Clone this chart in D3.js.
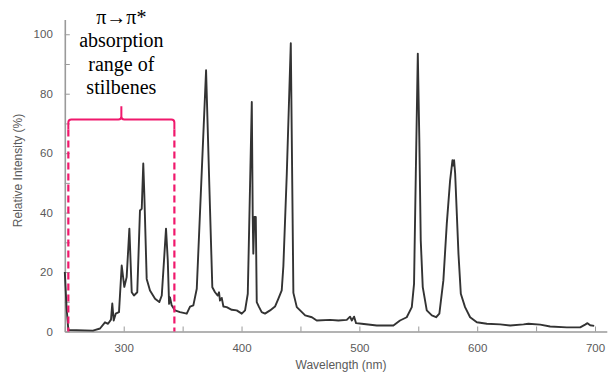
<!DOCTYPE html>
<html>
<head>
<meta charset="utf-8">
<script src="https://cdn.jsdelivr.net/npm/d3@7/dist/d3.min.js"></script>
<style>
  html, body { margin: 0; padding: 0; background: #fff; }
  svg { display: block; }
</style>
</head>
<body>
<script>
// Emission spectrum: wavelength (nm) and relative intensity (%)
const wavelength = [250, 251.5, 253, 273.9, 279.9, 284.1, 286.7, 289.2, 290.3, 291.5, 293.2, 296, 298.3, 300.5, 302.5, 304.8, 306.8, 308.7, 311.5, 313.8, 315.3, 316.6, 317.5, 319.5, 322.3, 326.6, 330.2, 332.3, 334.2, 335.9, 337.4, 338.5, 339.3, 340.7, 343.5, 347.8, 353.5, 356.3, 359.1, 362, 369.9, 372.7, 375.2, 377.5, 379.8, 380.9, 381.7, 383.2, 384.6, 387.4, 391.7, 395.9, 400.2, 403, 405.3, 408.7, 409.5, 410, 410.9, 412.1, 412.9, 414.9, 417.1, 419.9, 424.2, 428.4, 431.2, 434.1, 435.5, 438.4, 441.8, 443.3, 444, 446.9, 449.7, 454, 459.7, 463.8, 475.1, 482.2, 489.3, 492.1, 493.6, 495.5, 497.2, 502, 514.8, 528.9, 534.5, 540.2, 544.5, 546.4, 547.9, 549.6, 550.9, 552.1, 553.8, 557.2, 561.5, 565.1, 567.9, 571.3, 574.2, 577, 579, 579.7, 580.4, 581.3, 584.1, 586.1, 589.7, 594, 599.7, 608.2, 619.5, 628, 639.3, 643.5, 653.5, 661.9, 676.1, 687.4, 691.6, 693.6, 695.9, 699.3];
const intensity = [20, 8, 0.5, 0.3, 1, 3.1, 2.6, 4, 9.4, 3.7, 6, 6.5, 22.2, 15, 18.3, 34.6, 13.2, 12.1, 13.2, 40.7, 41.3, 56.5, 46, 17.7, 13.8, 11, 9.9, 12.1, 23.9, 34.6, 23.9, 9.3, 11.5, 8.8, 7.1, 6.5, 6, 8.4, 8.8, 14.4, 87.9, 48.6, 14.9, 13.2, 12.1, 13.2, 10.4, 11.3, 8.4, 8.2, 7.3, 7.1, 6, 7.1, 12.7, 77.2, 38.5, 26.2, 38.5, 38.5, 9.9, 8.2, 6.5, 6, 7.1, 8.4, 11, 13.8, 22, 53, 97, 40, 13, 8.2, 7.1, 5.4, 4.8, 3.7, 3.9, 3.7, 3.9, 5, 3.7, 5, 2.8, 2.6, 2, 2, 3.7, 4.8, 8.2, 16, 53, 93.5, 64.3, 30.6, 14.9, 7.1, 5.4, 4.8, 6, 17.2, 36.3, 50.8, 57.6, 55.8, 57.6, 53.1, 26.2, 12.7, 8.2, 4.8, 3.1, 2.6, 2.4, 2, 2.4, 2.6, 2.3, 1.7, 1.4, 1.4, 2.3, 2.8, 2.1, 1.9];

// Axis ticks
const xTickValues = [300, 400, 500, 600, 700];
const xMinorTicks = [250, 300, 350, 400, 450, 500, 550, 600, 650, 700];
const yTickValues = [0, 20, 40, 60, 80, 100];
const yMinorTicks = [0, 10, 20, 30, 40, 50, 60, 70, 80, 90, 100];

// Annotated wavelength range and its caption
const bandRange = [253, 343];
const bandLabel = ["π→π*", "absorption", "range of", "stilbenes"];

const W = 608, H = 372;
const svg = d3.select("body").append("svg").attr("width", W).attr("height", H);

const x = d3.scaleLinear().domain([250, 710]).range([64.8, 606.8]);
const y = d3.scaleLinear().domain([0, 105]).range([331.5, 19.4]);

const axisColor = "#9a9a9a";
const textColor = "#5a5a5a";
const sans = "'Liberation Sans', Arial, Helvetica, sans-serif";

// Minor ticks (no labels)
svg.append("g")
  .attr("transform", `translate(0,${y(0)})`)
  .call(d3.axisBottom(x).tickValues(xMinorTicks).tickSizeInner(-5).tickSizeOuter(0).tickFormat(""))
  .call(g => g.select(".domain").attr("stroke", axisColor).attr("stroke-width", 1.6))
  .call(g => g.selectAll(".tick line").attr("stroke", axisColor).attr("stroke-width", 1));

svg.append("g")
  .attr("transform", `translate(${x(250)},0)`)
  .call(d3.axisLeft(y).tickValues(yMinorTicks).tickSizeInner(-5).tickSizeOuter(0).tickFormat(""))
  .call(g => g.select(".domain").attr("stroke", axisColor).attr("stroke-width", 1.6))
  .call(g => g.selectAll(".tick line").attr("stroke", axisColor).attr("stroke-width", 1));

// Labelled ticks
svg.append("g")
  .attr("transform", `translate(0,${y(0)})`)
  .call(d3.axisBottom(x).tickValues(xTickValues).tickSize(0).tickPadding(12).tickFormat(d3.format("d")))
  .call(g => g.select(".domain").remove())
  .call(g => g.selectAll("text").attr("fill", textColor).style("font-family", sans).style("font-size", "11.5px"));

svg.append("g")
  .attr("transform", `translate(${x(250)},0)`)
  .call(d3.axisLeft(y).tickValues(yTickValues).tickSize(0).tickPadding(12).tickFormat(d3.format("d")))
  .call(g => g.select(".domain").remove())
  .call(g => g.selectAll("text").attr("fill", textColor).style("font-family", sans).style("font-size", "11.5px"));

// Axis titles
svg.append("text")
  .attr("transform", `translate(22,${(y(0) + y(105)) / 2 - 5}) rotate(-90)`)
  .attr("text-anchor", "middle")
  .attr("fill", textColor)
  .style("font-family", sans).style("font-size", "12px")
  .text("Relative Intensity (%)");

svg.append("text")
  .attr("x", 341).attr("y", 369)
  .attr("text-anchor", "middle")
  .attr("fill", textColor)
  .style("font-family", sans).style("font-size", "12px")
  .text("Wavelength (nm)");

// Spectrum line
const points = wavelength.map((w, i) => [w, intensity[i]]);
svg.append("path")
  .datum(points)
  .attr("fill", "none")
  .attr("stroke", "#333")
  .attr("stroke-width", 1.9)
  .attr("stroke-linejoin", "round")
  .attr("d", d3.line().x(d => x(d[0])).y(d => y(d[1])));

// Bracket marking the absorption range
const pink = "#f0186c";
const xl = x(bandRange[0]), xr = x(bandRange[1]);
const xm = (xl + xr) / 2;
const yb = y(71.3), yEnd = y(68), yTip = y(75.8);
const r = 3;
const brace = d3.path();
brace.moveTo(xl, yEnd);
brace.lineTo(xl, yb + r);
brace.quadraticCurveTo(xl, yb, xl + r, yb);
brace.lineTo(xm - 3, yb);
brace.quadraticCurveTo(xm, yb, xm, yb - 3);
brace.lineTo(xm, yTip);
brace.moveTo(xm, yb - 3);
brace.quadraticCurveTo(xm, yb, xm + 3, yb);
brace.lineTo(xr - r, yb);
brace.quadraticCurveTo(xr, yb, xr, yb + r);
brace.lineTo(xr, yEnd);
svg.append("path")
  .attr("d", brace.toString())
  .attr("fill", "none")
  .attr("stroke", pink)
  .attr("stroke-width", 2);

svg.selectAll("line.band")
  .data(bandRange)
  .join("line")
  .attr("class", "band")
  .attr("x1", d => x(d)).attr("x2", d => x(d))
  .attr("y1", yEnd).attr("y2", y(0))
  .attr("stroke", pink)
  .attr("stroke-width", 2.2)
  .attr("stroke-dasharray", "7,4");

// Caption above the bracket
svg.append("g")
  .selectAll("text")
  .data(bandLabel)
  .join("text")
  .attr("x", xm)
  .attr("y", (d, i) => 23.5 + i * 23.5)
  .attr("text-anchor", "middle")
  .attr("fill", "#000")
  .style("font-family", "'Liberation Serif', 'Times New Roman', serif")
  .style("font-size", "20px")
  .text(d => d);
</script>
</body>
</html>
